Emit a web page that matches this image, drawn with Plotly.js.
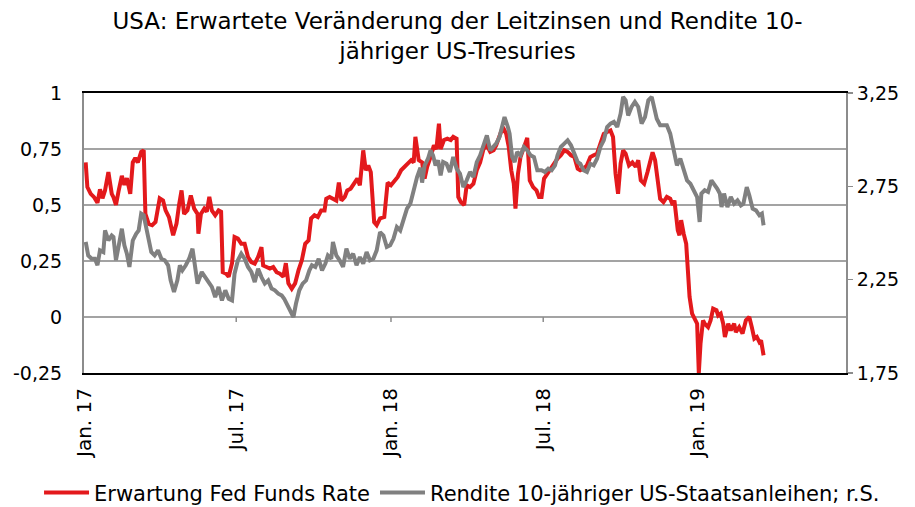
<!DOCTYPE html>
<html>
<head>
<meta charset="utf-8">
<script src="https://cdn.plot.ly/plotly-3.0.1.min.js"></script>
<style>html,body{margin:0;padding:0;background:#fff;}#chart{width:915px;height:507px;}</style>
</head>
<body>
<div id="chart"></div>
<script>
// ---- Data ----
const redName = "Erwartung Fed Funds Rate";
const grayName = "Rendite 10-jähriger US-Staatsanleihen; r.S.";

const redDates = [
"2017-01-03","2017-01-05","2017-01-09","2017-01-13","2017-01-17","2017-01-20","2017-01-23","2017-01-26","2017-01-30","2017-02-03",
"2017-02-05","2017-02-08","2017-02-11","2017-02-15","2017-02-18","2017-02-21","2017-02-25","2017-02-28","2017-03-03","2017-03-06",
"2017-03-10","2017-03-13","2017-03-15","2017-03-19","2017-03-23","2017-03-27","2017-04-01","2017-04-05","2017-04-08","2017-04-12",
"2017-04-17","2017-04-21","2017-04-24","2017-04-27","2017-04-30","2017-05-04","2017-05-08","2017-05-12","2017-05-16","2017-05-17",
"2017-05-20","2017-05-24","2017-05-27","2017-05-30","2017-06-02","2017-06-06","2017-06-10","2017-06-13","2017-06-15","2017-06-19",
"2017-06-22","2017-06-26","2017-06-29","2017-07-03","2017-07-07","2017-07-11","2017-07-15","2017-07-19","2017-07-23","2017-07-27",
"2017-07-31","2017-08-02","2017-08-06","2017-08-10","2017-08-14","2017-08-18","2017-08-22","2017-08-26","2017-08-29","2017-09-01",
"2017-09-05","2017-09-09","2017-09-13","2017-09-17","2017-09-21","2017-09-25","2017-09-28","2017-10-02","2017-10-06","2017-10-10",
"2017-10-14","2017-10-16","2017-10-20","2017-10-24","2017-10-28","2017-10-31","2017-11-03","2017-11-07","2017-11-10","2017-11-14",
"2017-11-18","2017-11-22","2017-11-25","2017-11-29","2017-12-02","2017-12-05","2017-12-08","2017-12-12","2017-12-15","2017-12-19",
"2017-12-24","2017-12-28","2018-01-01","2018-01-05","2018-01-09","2018-01-13","2018-01-17","2018-01-21","2018-01-25","2018-01-28",
"2018-01-30","2018-02-03","2018-02-07","2018-02-10","2018-02-13","2018-02-17","2018-02-21","2018-02-24","2018-02-27","2018-03-01",
"2018-03-05","2018-03-09","2018-03-13","2018-03-16","2018-03-20","2018-03-22","2018-03-25","2018-03-29","2018-04-01","2018-04-05",
"2018-04-09","2018-04-13","2018-04-17","2018-04-21","2018-04-25","2018-04-29","2018-05-03","2018-05-06","2018-05-10","2018-05-14",
"2018-05-18","2018-05-21","2018-05-24","2018-05-27","2018-05-29","2018-06-01","2018-06-04","2018-06-08","2018-06-12","2018-06-15",
"2018-06-19","2018-06-23","2018-06-26","2018-06-29","2018-07-02","2018-07-06","2018-07-10","2018-07-14","2018-07-18","2018-07-22",
"2018-07-26","2018-07-30","2018-08-03","2018-08-07","2018-08-11","2018-08-14","2018-08-18","2018-08-22","2018-08-26","2018-08-30",
"2018-09-03","2018-09-07","2018-09-11","2018-09-15","2018-09-19","2018-09-22","2018-09-25","2018-09-28","2018-10-01","2018-10-04",
"2018-10-07","2018-10-11","2018-10-15","2018-10-19","2018-10-22","2018-10-25","2018-10-29","2018-11-02","2018-11-05","2018-11-08",
"2018-11-11","2018-11-14","2018-11-17","2018-11-21","2018-11-25","2018-11-29","2018-12-02","2018-12-04","2018-12-06","2018-12-08",
"2018-12-10","2018-12-12","2018-12-15","2018-12-18","2018-12-20","2018-12-22","2018-12-25","2018-12-28","2018-12-31","2019-01-02",
"2019-01-04","2019-01-07","2019-01-09","2019-01-13","2019-01-16","2019-01-19","2019-01-23","2019-01-25","2019-01-28","2019-01-31",
"2019-02-02","2019-02-06","2019-02-09","2019-02-13","2019-02-15","2019-02-19","2019-02-23","2019-02-27","2019-03-03","2019-03-06",
"2019-03-09","2019-03-12","2019-03-15","2019-03-17","2019-03-20"];
const redValues = [
0.69,0.58,0.55,0.535,0.51,0.57,0.53,0.565,0.647,0.55,
0.535,0.5,0.56,0.63,0.59,0.62,0.55,0.69,0.71,0.69,
0.737,0.744,0.46,0.415,0.41,0.424,0.53,0.52,0.476,0.446,
0.365,0.417,0.5,0.565,0.46,0.476,0.543,0.484,0.46,0.372,
0.46,0.484,0.47,0.536,0.476,0.454,0.476,0.47,0.2,0.193,
0.18,0.24,0.357,0.35,0.327,0.327,0.268,0.245,0.238,0.268,
0.312,0.23,0.223,0.216,0.223,0.2,0.193,0.18,0.24,0.15,
0.126,0.15,0.208,0.253,0.327,0.342,0.44,0.454,0.446,0.476,
0.476,0.528,0.536,0.528,0.52,0.6,0.52,0.536,0.565,0.573,
0.595,0.618,0.588,0.744,0.655,0.677,0.647,0.423,0.41,0.44,
0.446,0.6,0.588,0.61,0.625,0.655,0.67,0.685,0.7,0.69,
0.804,0.7,0.69,0.618,0.67,0.714,0.766,0.75,0.863,0.75,
0.79,0.796,0.79,0.804,0.796,0.536,0.513,0.5,0.588,0.58,
0.595,0.655,0.69,0.75,0.766,0.737,0.744,0.766,0.804,0.848,
0.818,0.759,0.655,0.595,0.484,0.64,0.714,0.759,0.8,0.61,
0.58,0.565,0.536,0.536,0.618,0.64,0.662,0.69,0.707,0.722,
0.744,0.737,0.722,0.714,0.662,0.655,0.662,0.677,0.714,0.722,
0.729,0.774,0.818,0.826,0.833,0.804,0.64,0.55,0.685,0.744,
0.729,0.677,0.69,0.67,0.7,0.61,0.595,0.647,0.69,0.735,
0.7,0.625,0.528,0.513,0.536,0.528,0.5,0.52,0.446,0.387,
0.365,0.432,0.372,0.327,0.208,0.09,0.015,-0.007,-0.03,-0.25,
-0.12,-0.015,-0.03,-0.045,-0.015,0.037,0.03,0.007,0.015,-0.03,
-0.089,-0.03,-0.06,-0.03,-0.067,-0.045,-0.074,-0.015,0,-0.045,
-0.097,-0.089,-0.112,-0.104,-0.171];

const grayDates = [
"2017-01-03","2017-01-06","2017-01-10","2017-01-14","2017-01-17","2017-01-20","2017-01-24","2017-01-26","2017-01-30","2017-02-03",
"2017-02-05","2017-02-08","2017-02-11","2017-02-15","2017-02-18","2017-02-21","2017-02-24","2017-02-28","2017-03-04","2017-03-07",
"2017-03-10","2017-03-13","2017-03-15","2017-03-18","2017-03-22","2017-03-26","2017-03-30","2017-04-03","2017-04-07","2017-04-11",
"2017-04-14","2017-04-18","2017-04-22","2017-04-25","2017-04-28","2017-05-02","2017-05-06","2017-05-10","2017-05-13","2017-05-16",
"2017-05-21","2017-05-25","2017-05-29","2017-06-02","2017-06-06","2017-06-10","2017-06-14","2017-06-18","2017-06-22","2017-06-26",
"2017-06-29","2017-07-03","2017-07-07","2017-07-11","2017-07-15","2017-07-19","2017-07-23","2017-07-27","2017-07-31","2017-08-04",
"2017-08-08","2017-08-12","2017-08-16","2017-08-20","2017-08-24","2017-08-27","2017-08-31","2017-09-04","2017-09-07","2017-09-10",
"2017-09-14","2017-09-18","2017-09-22","2017-09-26","2017-09-29","2017-10-03","2017-10-07","2017-10-11","2017-10-15","2017-10-18",
"2017-10-22","2017-10-24","2017-10-28","2017-11-01","2017-11-05","2017-11-09","2017-11-13","2017-11-17","2017-11-21","2017-11-25",
"2017-11-29","2017-12-03","2017-12-07","2017-12-11","2017-12-15","2017-12-19","2017-12-23","2017-12-27","2017-12-31","2018-01-04",
"2018-01-08","2018-01-12","2018-01-16","2018-01-20","2018-01-24","2018-01-28","2018-02-01","2018-02-05","2018-02-07","2018-02-10",
"2018-02-14","2018-02-17","2018-02-20","2018-02-23","2018-02-26","2018-03-01","2018-03-04","2018-03-08","2018-03-12","2018-03-16",
"2018-03-20","2018-03-24","2018-03-28","2018-04-01","2018-04-05","2018-04-09","2018-04-13","2018-04-17","2018-04-21","2018-04-25",
"2018-04-29","2018-05-03","2018-05-06","2018-05-10","2018-05-13","2018-05-16","2018-05-20","2018-05-22","2018-05-25","2018-05-28",
"2018-05-31","2018-06-04","2018-06-08","2018-06-12","2018-06-16","2018-06-20","2018-06-24","2018-06-29","2018-07-03","2018-07-07",
"2018-07-11","2018-07-15","2018-07-18","2018-07-22","2018-07-26","2018-07-30","2018-08-03","2018-08-07","2018-08-11","2018-08-14",
"2018-08-18","2018-08-22","2018-08-26","2018-08-30","2018-09-03","2018-09-07","2018-09-11","2018-09-15","2018-09-19","2018-09-23",
"2018-09-27","2018-10-01","2018-10-04","2018-10-07","2018-10-10","2018-10-14","2018-10-18","2018-10-22","2018-10-26","2018-10-30",
"2018-11-03","2018-11-07","2018-11-09","2018-11-13","2018-11-17","2018-11-21","2018-11-25","2018-11-29","2018-12-03","2018-12-07",
"2018-12-11","2018-12-15","2018-12-19","2018-12-23","2018-12-27","2018-12-31","2019-01-03","2019-01-05","2019-01-09","2019-01-13",
"2019-01-17","2019-01-20","2019-01-24","2019-01-27","2019-01-29","2019-02-01","2019-02-05","2019-02-09","2019-02-13","2019-02-17",
"2019-02-21","2019-02-24","2019-02-28","2019-03-03","2019-03-07","2019-03-11","2019-03-15","2019-03-18","2019-03-20"];
const grayValues = [
2.452,2.38,2.362,2.362,2.327,2.407,2.398,2.514,2.46,2.487,
2.479,2.354,2.425,2.523,2.434,2.389,2.318,2.46,2.496,2.514,
2.604,2.595,2.55,2.479,2.398,2.38,2.407,2.362,2.354,2.327,
2.246,2.184,2.246,2.327,2.3,2.327,2.362,2.416,2.336,2.229,
2.291,2.264,2.246,2.211,2.157,2.211,2.139,2.193,2.148,2.139,
2.282,2.354,2.389,2.362,2.318,2.291,2.237,2.309,2.264,2.229,
2.246,2.202,2.193,2.175,2.166,2.148,2.112,2.077,2.05,2.121,
2.193,2.229,2.246,2.3,2.327,2.318,2.362,2.3,2.336,2.38,
2.362,2.452,2.38,2.354,2.318,2.416,2.362,2.389,2.327,2.371,
2.336,2.398,2.354,2.362,2.407,2.505,2.487,2.425,2.434,2.47,
2.532,2.514,2.568,2.63,2.657,2.729,2.8,2.85,2.77,2.862,
2.898,2.943,2.916,2.862,2.889,2.809,2.88,2.871,2.827,2.907,
2.845,2.818,2.746,2.782,2.827,2.8,2.88,2.916,2.97,3.023,
2.943,2.961,2.979,3.014,3.068,3.121,3.068,3.032,2.907,2.88,
2.934,2.916,2.961,2.943,2.916,2.907,2.836,2.836,2.827,2.845,
2.836,2.862,2.916,2.961,2.979,2.996,2.97,2.925,2.88,2.871,
2.836,2.827,2.871,2.862,2.898,2.961,2.996,3.068,3.086,3.095,
3.068,3.139,3.229,3.211,3.13,3.175,3.202,3.175,3.086,3.121,
3.211,3.229,3.184,3.112,3.077,3.077,3.077,3.032,2.934,2.862,
2.898,2.845,2.782,2.764,2.729,2.693,2.559,2.711,2.729,2.72,
2.782,2.764,2.737,2.711,2.639,2.711,2.639,2.693,2.657,2.675,
2.648,2.657,2.746,2.702,2.63,2.621,2.595,2.604,2.541];

const xTickVals = ["2017-01-01","2017-07-01","2018-01-01","2018-07-01","2019-01-01"];
const xTickText = ["Jan. 17","Jul. 17","Jan. 18","Jul. 18","Jan. 19"];
const leftTickVals = [-0.25,0,0.25,0.5,0.75,1];
const leftTickText = ["-0,25","0","0,25","0,5","0,75","1"];
const rightTickVals = [1.75,2.25,2.75,3.25];
const rightTickText = ["1,75","2,25","2,75","3,25"];

// ---- Chart ----
const FONT = '"DejaVu Sans", Verdana, sans-serif';

const traces = [
  {x: redDates, y: redValues, name: redName, type: 'scatter', mode: 'lines',
   line: {color: '#e3191c', width: 4}, yaxis: 'y'},
  {x: grayDates, y: grayValues, name: grayName, type: 'scatter', mode: 'lines',
   line: {color: '#808080', width: 4}, yaxis: 'y2'}
];

const tickMarks = xTickVals.slice(1, 4).map(d => ({
  type: 'line', xref: 'x', yref: 'y', x0: d, x1: d, y0: 0, y1: -0.022,
  line: {color: '#8c8c8c', width: 1.5}
}));

const layout = {
  width: 915, height: 507,
  paper_bgcolor: '#fff', plot_bgcolor: '#fff',
  margin: {l: 84, r: 69, t: 93, b: 134, autoexpand: false},
  font: {family: FONT, size: 19, color: '#000'},
  title: {
    text: 'USA: Erwartete Veränderung der Leitzinsen und Rendite 10-<br>jähriger US-Tresuries',
    font: {family: FONT, size: 23, color: '#000'},
    x: 0.5, xanchor: 'center', xref: 'container',
    yref: 'container', y: 0.942, yanchor: 'top'
  },
  showlegend: true,
  legend: {orientation: 'h', xref: 'paper', x: -0.059, xanchor: 'left', yref: 'paper', y: -0.428, yanchor: 'middle',
    font: {family: FONT, size: 21, color: '#000'}, itemwidth: 45, tracegroupgap: 0,
    bgcolor: 'rgba(0,0,0,0)'},
  xaxis: {
    type: 'date', range: ['2017-01-01', '2019-06-26'],
    tickmode: 'array', tickvals: xTickVals, ticktext: xTickText, tickangle: -90,
    tickfont: {family: FONT, size: 20, color: '#000'},
    showgrid: false, zeroline: false, ticks: '', ticklabelstandoff: 5,
    showline: true, linecolor: '#000', linewidth: 2, mirror: true
  },
  yaxis: {
    range: [-0.25, 1], tickmode: 'array', tickvals: leftTickVals, ticktext: leftTickText,
    tickfont: {family: FONT, size: 19, color: '#000'},
    showgrid: true, gridcolor: '#a3a3a3', gridwidth: 1.5, zeroline: false,
    showline: true, linecolor: '#8c8c8c', linewidth: 2, ticks: '', ticklabelstandoff: 16
  },
  yaxis2: {
    overlaying: 'y', side: 'right', range: [1.75, 3.25],
    tickmode: 'array', tickvals: rightTickVals, ticktext: rightTickText,
    tickfont: {family: FONT, size: 19, color: '#000'},
    showgrid: false, zeroline: false,
    showline: true, linecolor: '#8c8c8c', linewidth: 2,
    ticks: 'outside', ticklen: 5, tickcolor: '#8c8c8c', tickwidth: 1.5
  },
  shapes: tickMarks
};

Plotly.newPlot('chart', traces, layout, {displayModeBar: false, staticPlot: true});
</script>
</body>
</html>
